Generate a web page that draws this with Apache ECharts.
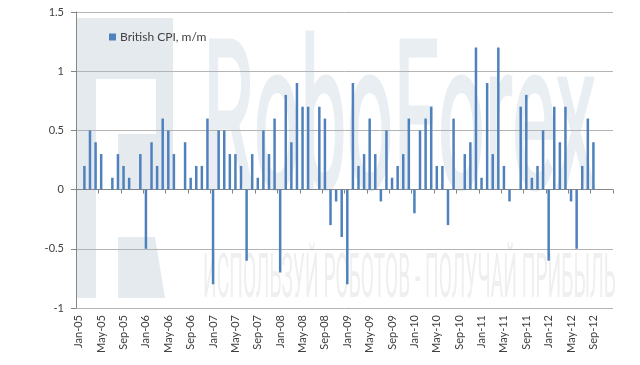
<!DOCTYPE html>
<html>
<head>
<meta charset="utf-8">
<script src="https://cdn.jsdelivr.net/npm/echarts@6/dist/echarts.min.js"></script>
<style>
html,body{margin:0;padding:0;background:#fff;}
#chart{width:640px;height:365px;}
</style>
</head>
<body>
<div id="chart"></div>
<script>
// ---- data ----
var months = ['Jan','Feb','Mar','Apr','May','Jun','Jul','Aug','Sep','Oct','Nov','Dec'];
var years = ['05','06','07','08','09','10','11','12'];
var seriesName = 'British CPI, m/m';
var cpi2005 = [0, 0.2, 0.5, 0.4, 0.3, 0, 0.1, 0.3, 0.2, 0.1, 0, 0.3];
var cpi2006 = [-0.5, 0.4, 0.2, 0.6, 0.5, 0.3, 0, 0.4, 0.1, 0.2, 0.2, 0.6];
var cpi2007 = [-0.8, 0.5, 0.5, 0.3, 0.3, 0.2, -0.6, 0.3, 0.1, 0.5, 0.3, 0.6];
var cpi2008 = [-0.7, 0.8, 0.4, 0.9, 0.7, 0.7, 0, 0.7, 0.6, -0.3, -0.1, -0.4];
var cpi2009 = [-0.8, 0.9, 0.2, 0.3, 0.6, 0.3, -0.1, 0.5, 0.1, 0.2, 0.3, 0.6];
var cpi2010 = [-0.2, 0.5, 0.6, 0.7, 0.2, 0.2, -0.3, 0.6, 0, 0.3, 0.4, 1.2];
var cpi2011 = [0.1, 0.9, 0.3, 1.2, 0.2, -0.1, 0, 0.7, 0.8, 0.1, 0.2, 0.5];
var cpi2012 = [-0.6, 0.7, 0.4, 0.7, -0.1, -0.5, 0.2, 0.6, 0.4, null, null, null];
var yTicks = {min: -1, max: 1.5, interval: 0.5};
var watermarkTitle = 'RoboForex';
var watermarkSlogan = 'ИСПОЛЬЗУЙ РОБОТОВ - ПОЛУЧАЙ ПРИБЫЛЬ';

// ---- build ----
var categories = [];
years.forEach(function (y) { months.forEach(function (m) { categories.push(m + '-' + y); }); });
var values = [].concat(cpi2005, cpi2006, cpi2007, cpi2008, cpi2009, cpi2010, cpi2011, cpi2012);

var FONT = 'Lato, "Open Sans", sans-serif';
var TXT = '#404040';
var WM = '#e5eaef';

var chart = echarts.init(document.getElementById('chart'), null, {renderer: 'canvas'});
chart.setOption({
  animation: false,
  backgroundColor: '#ffffff',
  textStyle: {fontFamily: FONT},
  grid: {left: 76, right: 27, top: 12, bottom: 57, containLabel: false},
  legend: {
    show: true, left: 104, top: 26, icon: 'rect', itemWidth: 7, itemHeight: 7, itemGap: 10,
    textStyle: {fontFamily: FONT, fontSize: 12, color: TXT, padding: [0, 0, 0, -1]},
    data: [seriesName]
  },
  graphic: [
    // logo-like watermark
    {type: 'rect', z: -10, shape: {x: 76, y: 18, width: 20, height: 280}, style: {fill: WM}},
    {type: 'rect', z: -10, shape: {x: 96, y: 18, width: 77, height: 61}, style: {fill: WM}},
    {type: 'rect', z: -10, shape: {x: 156, y: 79, width: 17, height: 111}, style: {fill: WM}},
    {type: 'rect', z: -10, shape: {x: 118, y: 134, width: 38, height: 56}, style: {fill: WM}},
    {type: 'polygon', z: -10, shape: {points: [[118, 237], [155, 237], [165, 298], [118, 298]]}, style: {fill: WM}},
    // big title watermark
    {type: 'text', z: -10, x: 203, y: 240, scaleX: 0.395, scaleY: 1,
     style: {text: watermarkTitle, fill: '#e9eef2', stroke: '#e9eef2', lineWidth: 3,
             font: 'normal 208px Roboto, sans-serif', textAlign: 'left', textVerticalAlign: 'bottom'}},
    // slogan watermark
    {type: 'text', z: -10, x: 203, y: 312, scaleX: 0.31, scaleY: 1,
     style: {text: watermarkSlogan, fill: '#efefef', font: '62px Roboto, sans-serif', textAlign: 'left', textVerticalAlign: 'bottom'}}
  ],
  xAxis: [
    {
      type: 'category', data: categories, boundaryGap: true, position: 'bottom',
      axisLine: {show: true, onZero: true, lineStyle: {color: '#868686', width: 1}},
      axisTick: {show: true, interval: 3, length: 4, inside: false, lineStyle: {color: '#868686'}},
      axisLabel: {show: false},
      splitLine: {show: false}
    },
    {
      type: 'category', data: categories, boundaryGap: true, position: 'bottom',
      axisLine: {show: false, onZero: false},
      axisTick: {show: false},
      axisLabel: {show: true, interval: 3, rotate: 90, margin: 7, fontSize: 11, color: TXT, fontFamily: FONT},
      splitLine: {show: false}
    }
  ],
  yAxis: {
    type: 'value', min: yTicks.min, max: yTicks.max, interval: yTicks.interval,
    axisLine: {show: true, lineStyle: {color: '#868686'}},
    axisTick: {show: true, length: 5, lineStyle: {color: '#868686'}},
    axisLabel: {margin: 12, fontSize: 11, color: TXT, fontFamily: FONT},
    splitLine: {show: true, lineStyle: {color: '#b4b4b4', width: 1}}
  },
  series: [{
    name: seriesName, type: 'bar', xAxisIndex: 0, data: values,
    barWidth: 2.5, itemStyle: {color: '#4f81bd'}
  }]
});
</script>
</body>
</html>
